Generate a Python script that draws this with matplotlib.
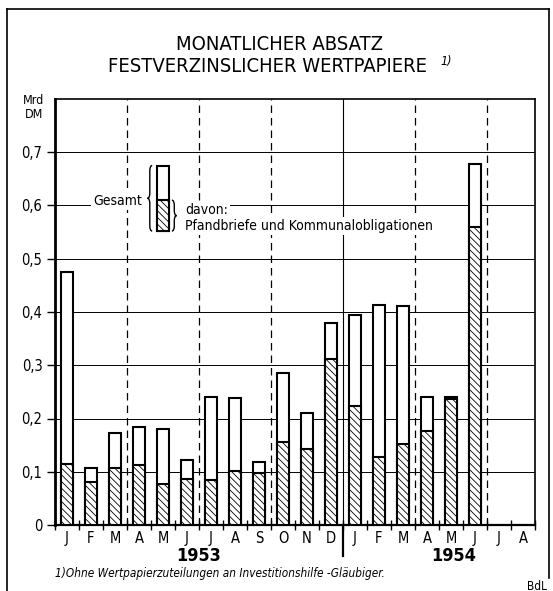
import numpy as np
import matplotlib
matplotlib.use("Agg")
import matplotlib.pyplot as plt
from matplotlib.patches import Rectangle, PathPatch
from matplotlib.path import Path
from matplotlib.lines import Line2D
import matplotlib.transforms as mtransforms

# ── Data (Mrd DM) ────────────────────────────────────────────────────────────
months = ["J", "F", "M", "A", "M", "J", "J", "A", "S", "O", "N", "D",
          "J", "F", "M", "A", "M", "J", "J", "A"]
gesamt = [0.475, 0.107, 0.172, 0.184, 0.180, 0.122, 0.240, 0.238, 0.118,
          0.285, 0.211, 0.379, 0.394, 0.413, 0.411, 0.241, 0.241, 0.677,
          None, None]
pfandbriefe = [0.114, 0.080, 0.107, 0.112, 0.077, 0.087, 0.085, 0.101, 0.098,
               0.156, 0.142, 0.311, 0.224, 0.127, 0.152, 0.176, 0.236, 0.559,
               None, None]
years = ["1953", "1954"]
yticks = [0, 0.1, 0.2, 0.3, 0.4, 0.5, 0.6, 0.7]
yticklabels = ["0", "0,1", "0,2", "0,3", "0,4", "0,5", "0,6", "0,7"]

plt.rcParams["font.family"] = ["DejaVu Sans"]
plt.rcParams["font.stretch"] = "condensed"
plt.rcParams["hatch.linewidth"] = 0.6

W, H = 553, 591
fig = plt.figure(figsize=(W / 100, H / 100), dpi=100)
ax = fig.add_axes([55 / W, (H - 525) / H, 480 / W, 426 / H])

# ── Grid ─────────────────────────────────────────────────────────────────────
for y in yticks[1:]:
    ax.axhline(y, color="black", lw=0.7, zorder=1)
for x in [3, 6, 9, 15, 18]:
    ax.axvline(x, color="black", lw=0.9, dashes=(6, 4), zorder=1)
ax.axvline(12, color="black", lw=0.8, zorder=1)

# ── Bars ─────────────────────────────────────────────────────────────────────
bw = 0.53
hatch = "\\" * 5
for i, (g, p) in enumerate(zip(gesamt, pfandbriefe)):
    if g is None:
        continue
    ax.bar(i + 0.5, g, width=bw, facecolor="white", edgecolor="black",
           lw=1.5, zorder=3)
    ax.bar(i + 0.5, p, width=bw, facecolor="white", edgecolor="black",
           hatch=hatch, lw=1.5, zorder=4)

# ── Legend (drawn in the plot) ───────────────────────────────────────────────
ax.add_patch(Rectangle((3.6, 0.545), 1.8, 0.135, facecolor="white",
                       edgecolor="none", zorder=2))
lx = 4.5
ax.bar(lx, 0.675 - 0.552, bottom=0.552, width=bw, facecolor="white",
       edgecolor="black", lw=1.5, zorder=3)
ax.bar(lx, 0.61 - 0.552, bottom=0.552, width=bw, facecolor="white",
       edgecolor="black", hatch=hatch, lw=1.5, zorder=4)


def brace(x0, ytop, ybot, w, side):
    # curly brace; side=+1 gives "{", side=-1 gives "}"
    ym = (ytop + ybot) / 2
    r = 0.01
    xo = x0 - side * w
    xc = x0 - side * w / 2
    verts = [(x0, ytop), (xc, ytop), (xc, ytop - r),
             (xc, ym + r), (xc, ym), (xo, ym),
             (xc, ym), (xc, ym - r),
             (xc, ybot + r), (xc, ybot), (x0, ybot)]
    codes = [Path.MOVETO, Path.CURVE3, Path.CURVE3,
             Path.LINETO, Path.CURVE3, Path.CURVE3,
             Path.CURVE3, Path.CURVE3,
             Path.LINETO, Path.CURVE3, Path.CURVE3]
    ax.add_patch(PathPatch(Path(verts, codes), facecolor="none",
                           edgecolor="black", lw=1.0, zorder=5))


brace(4.05, 0.675, 0.552, 0.2, side=1)
brace(4.87, 0.61, 0.552, 0.2, side=-1)

box = dict(facecolor="white", edgecolor="none", pad=1.5)
ax.text(3.62, 0.609, "Gesamt", ha="right", va="center", fontsize=10,
        bbox=box, zorder=6)
ax.text(5.42, 0.592, "davon:", ha="left", va="center", fontsize=10,
        bbox=box, zorder=6)
ax.text(5.42, 0.561, "Pfandbriefe und Kommunalobligationen", ha="left",
        va="center", fontsize=10, bbox=box, zorder=6)

# ── Axes, ticks ──────────────────────────────────────────────────────────────
ax.set_xlim(0, 20)
ax.set_ylim(0, 0.8)
ax.set_yticks(yticks)
ax.set_yticklabels(yticklabels, fontsize=10.5)
ax.tick_params(axis="y", direction="out", length=6, width=1.0, pad=3)
ax.set_xticks(np.arange(0, 21))
ax.set_xticklabels([])
ax.tick_params(axis="x", which="major", direction="inout", length=7, width=1.0)
ax.set_xticks(np.arange(len(months)) + 0.5, minor=True)
ax.set_xticklabels(months, minor=True, fontsize=10.5)
ax.tick_params(axis="x", which="minor", length=0, pad=4)

ax.spines["left"].set_linewidth(2.0)
ax.spines["bottom"].set_linewidth(1.6)
ax.spines["top"].set_linewidth(1.2)
ax.spines["right"].set_linewidth(1.2)

# year separator and year labels
ax.plot([12, 12], [0, -0.072], transform=ax.get_xaxis_transform(),
        color="black", lw=1.6, clip_on=False)
trans = mtransforms.blended_transform_factory(ax.transData, ax.transAxes)
ax.text(6, -0.073, years[0], transform=trans, ha="center", va="center",
        fontsize=13, fontweight="bold")
ax.text(16.6, -0.073, years[1], transform=trans, ha="center", va="center",
        fontsize=13, fontweight="bold")

# ── Figure texts ─────────────────────────────────────────────────────────────
fig.text(34 / W, 1 - 101 / H, "Mrd", ha="center", va="center", fontsize=9)
fig.text(34 / W, 1 - 115 / H, "DM", ha="center", va="center", fontsize=9)

fig.text(280 / W, 1 - 45 / H, "MONATLICHER ABSATZ", ha="center",
         va="center", fontsize=14.5)
fig.text(268 / W, 1 - 67 / H, "FESTVERZINSLICHER WERTPAPIERE",
         ha="center", va="center", fontsize=14.5)
fig.text(440 / W, 1 - 62 / H, "1)", ha="left", va="center", fontsize=9,
         style="italic")

fig.text(55 / W, 1 - 574 / H,
         "1)Ohne Wertpapierzuteilungen an Investitionshilfe -Gläubiger.",
         ha="left", va="center", fontsize=8.5, style="italic")
fig.text(537 / W, 1 - 586 / H, "BdL", ha="center", va="center", fontsize=8.5)

# outer frame
frame = dict(color="black", lw=1.2, transform=fig.transFigure)
fig.add_artist(Line2D([7 / W, 7 / W], [0, 1 - 9 / H], **frame))
fig.add_artist(Line2D([7 / W, 549 / W], [1 - 9 / H, 1 - 9 / H], **frame))
fig.add_artist(Line2D([549 / W, 549 / W], [1 - 9 / H, 1 - 578 / H], **frame))

fig.savefig("out.png", dpi=100)
